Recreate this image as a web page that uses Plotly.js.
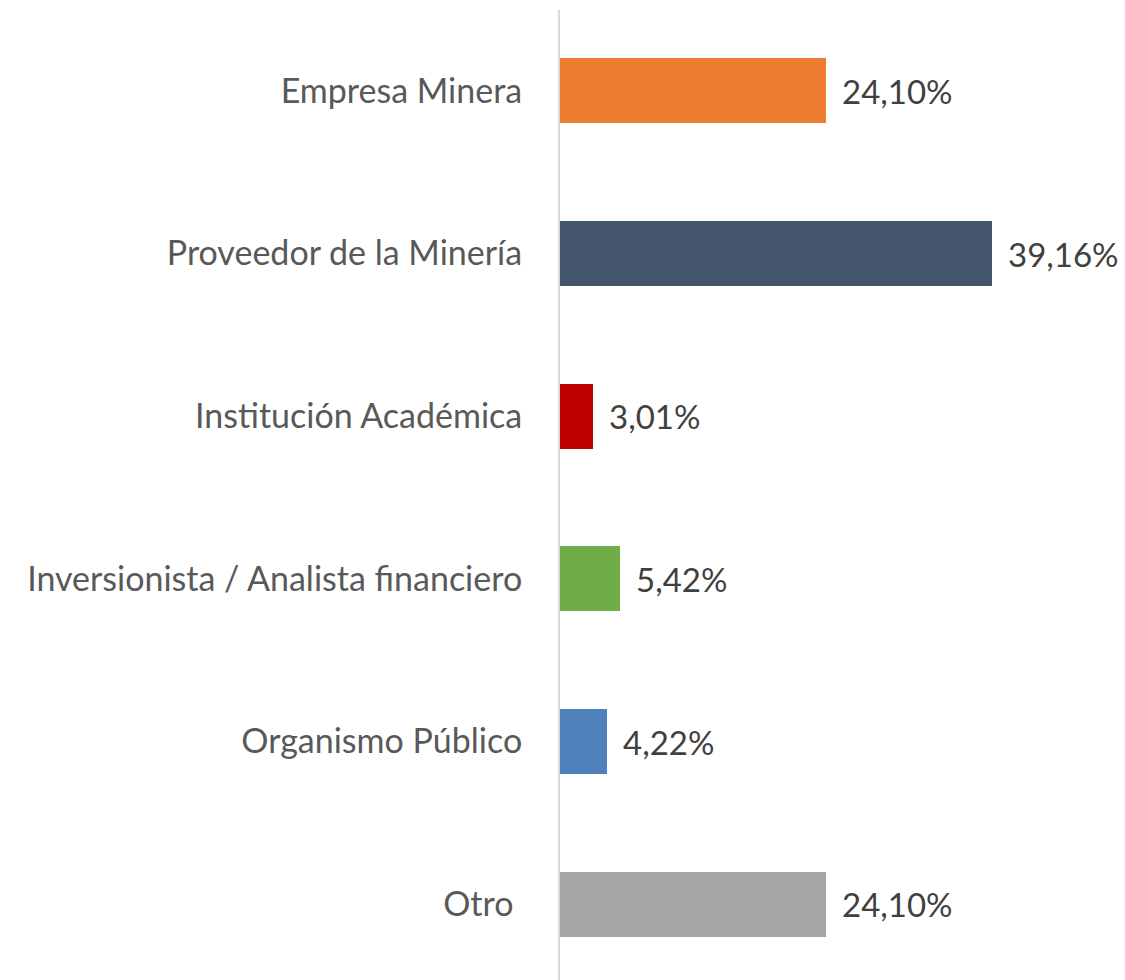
<!DOCTYPE html>
<html>
<head>
<meta charset="utf-8">
<script src="https://cdn.plot.ly/plotly-3.0.1.min.js"></script>
<style>html,body{margin:0;padding:0;background:#fff;}#chart{width:1125px;height:980px;}</style>
</head>
<body>
<div id="chart"></div>
<script>
const categories = ["Empresa Minera", "Proveedor de la Minería", "Institución Académica", "Inversionista / Analista financiero", "Organismo Público", "Otro\u00a0"];
const values = [24.10, 39.16, 3.01, 5.42, 4.22, 24.10];
const colors = ["#ED7D31", "#44546A", "#C00000", "#70AD47", "#4F81BD", "#A5A5A5"];

const FONT = "Lato, 'Liberation Sans', sans-serif";
const labels = values.map(v => v.toFixed(2).replace('.', ',') + '%');

const trace = {
  type: 'bar',
  orientation: 'h',
  x: values,
  y: categories,
  width: 0.4,
  marker: {color: colors},
  hoverinfo: 'none'
};

const annotations = values.map((v, i) => ({
  x: v, y: categories[i], xref: 'x', yref: 'y',
  text: labels[i], showarrow: false, xanchor: 'left', yanchor: 'middle',
  xshift: 14,
  font: {family: FONT, size: 33, color: '#404040'}
}));

const layout = {
  width: 1125, height: 980,
  margin: {l: 560, r: 0, t: 10, b: 0, pad: 0},
  paper_bgcolor: '#ffffff', plot_bgcolor: '#ffffff',
  showlegend: false,
  bargap: 0,
  xaxis: {range: [0, 51.2], showgrid: false, zeroline: false, showticklabels: false, showline: false, ticks: ''},
  yaxis: {
    type: 'category', categoryorder: 'array', categoryarray: categories,
    range: [5.466, -0.497],
    showline: true, linecolor: '#d9d9d9', linewidth: 2,
    showgrid: false, zeroline: false, ticks: '',
    ticklabelstandoff: 29,
    tickfont: {family: FONT, size: 34, color: '#595959'}
  },
  annotations: annotations
};

Plotly.newPlot('chart', [trace], layout, {displayModeBar: false, staticPlot: true});
</script>
</body>
</html>
